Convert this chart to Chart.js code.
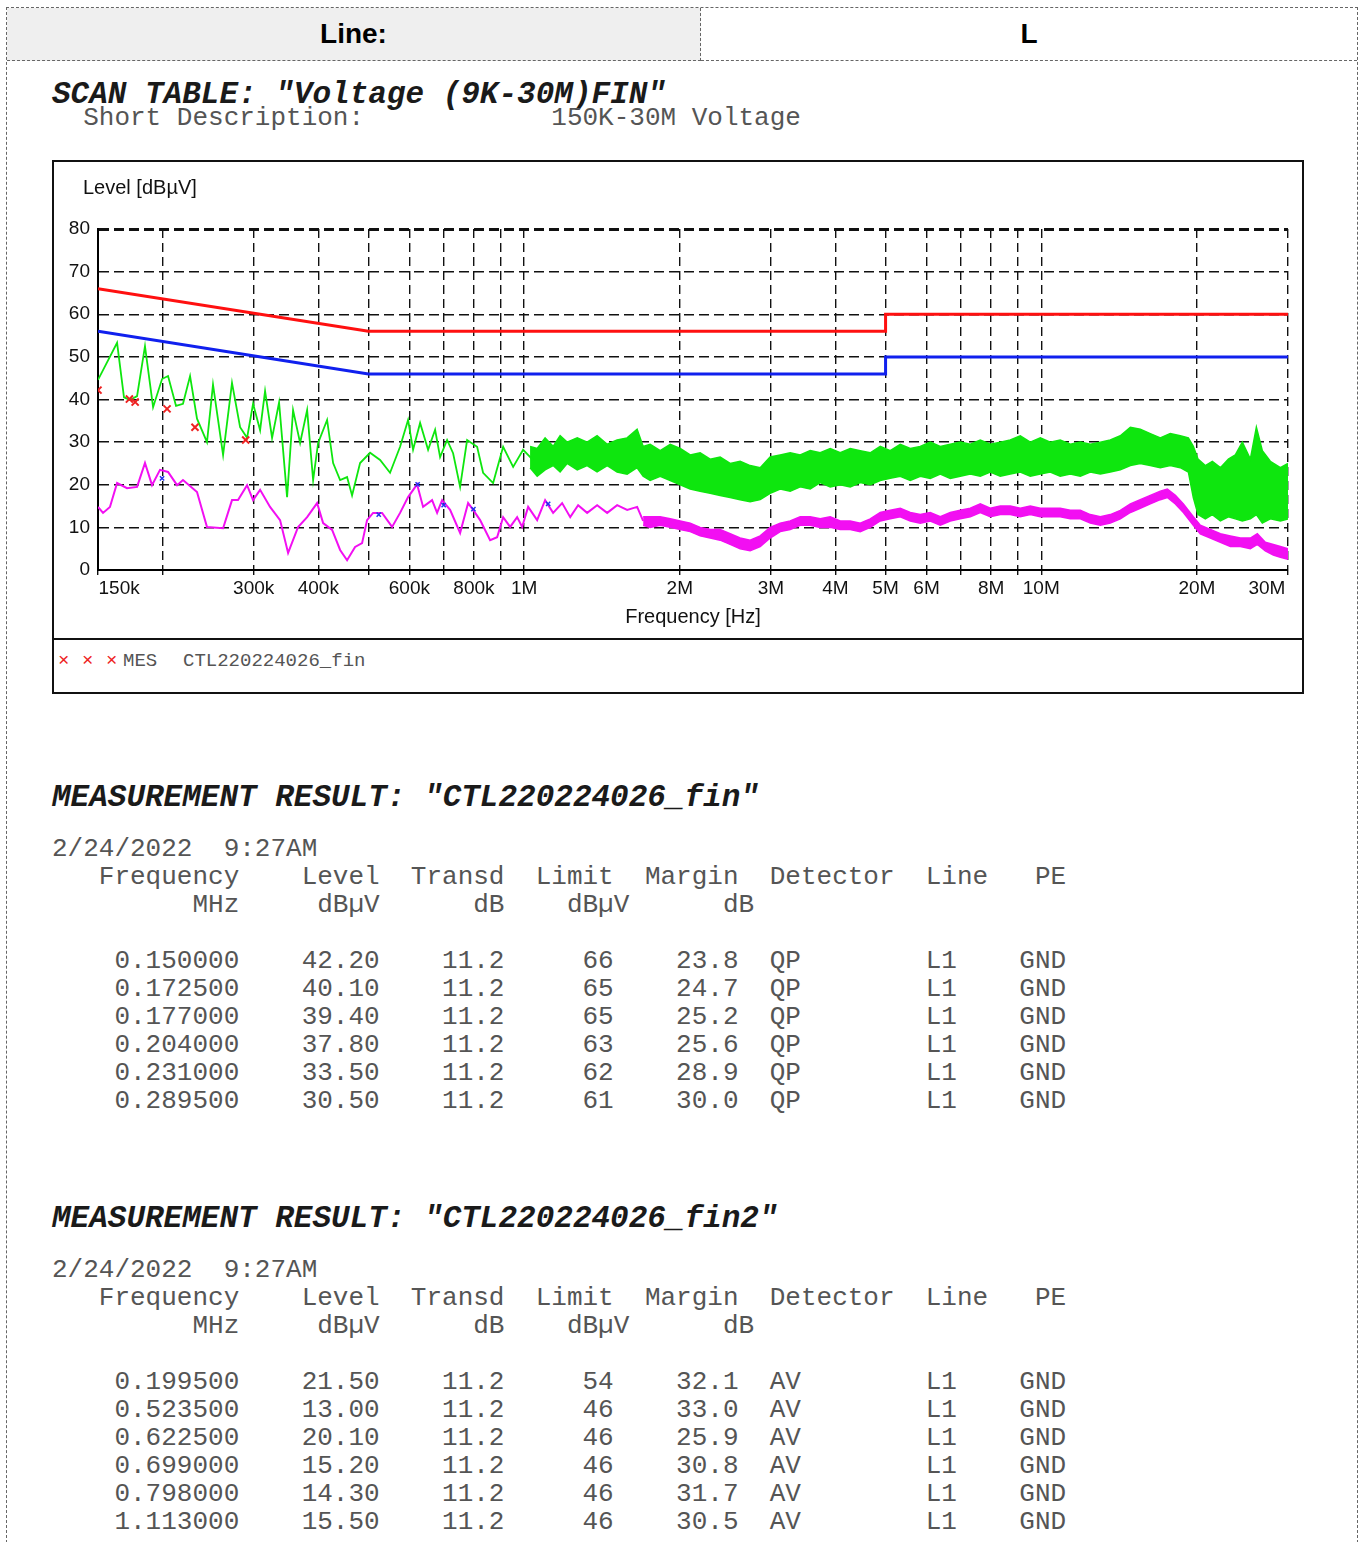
<!DOCTYPE html>
<html>
<head>
<meta charset="utf-8">
<title>SCAN TABLE - Voltage (9K-30M) FIN</title>
<script src="https://cdn.jsdelivr.net/npm/chart.js@4.4.0/dist/chart.umd.min.js"></script>
<style>
  body { margin: 0; width: 1362px; height: 1542px; background: #fff; position: relative; overflow: hidden; }
  .frame { position: absolute; left: 6px; top: 7px; width: 1350px; height: 1540px;
           border-left: 1px dashed #666; border-right: 1px dashed #666; border-top: 1px dashed #666; }
  .cell { position: absolute; top: 8px; height: 52px; border-bottom: 1px dashed #666;
          font: bold 28px "Liberation Sans", Arial, sans-serif; color: #000;
          display: flex; align-items: center; justify-content: center; }
  .cell.left { left: 7px; width: 693px; background: #efefef; border-right: 1px dashed #666; }
  .cell.right { left: 701px; width: 656px; }
  .mono { position: absolute; margin: 0; font-family: "Liberation Mono", "Courier New", monospace;
          color: #555; white-space: pre; }
  .title { font-size: 31px; font-weight: bold; font-style: italic; color: #1a1a1a; line-height: 36px; }
  .body { font-size: 26px; line-height: 28px; }
  .box { position: absolute; left: 52px; top: 160px; width: 1248px; height: 530px; border: 2px solid #111; }
  .box .sep { position: absolute; left: 0; top: 476px; width: 1248px; height: 0; border-top: 2px solid #111; }
  #chart { position: absolute; left: 0; top: 0; }
  .legend { position: absolute; top: 488px; font: 19px "Liberation Mono", "Courier New", monospace; color: #555; }
  .legend.x { color: #e22; }
</style>
</head>
<body>
<div class="frame"></div>
<div class="cell left">Line:</div>
<div class="cell right">L</div>

<pre class="mono title" style="left:52px; top:77px;">SCAN TABLE: "Voltage (9K-30M)FIN"</pre>
<pre class="mono body" style="left:52px; top:104px;">  Short Description:            150K-30M Voltage</pre>

<div class="box">
  <canvas id="chart" width="1248" height="476"></canvas>
  <div class="sep"></div>
  <span class="legend x" style="left:4px;">×</span>
  <span class="legend x" style="left:28px;">×</span>
  <span class="legend x" style="left:52px;">×</span>
  <span class="legend" style="left:69px;">MES</span>
  <span class="legend" style="left:129px;">CTL220224026_fin</span>
</div>

<pre class="mono title" style="left:52px; top:780px;">MEASUREMENT RESULT: "CTL220224026_fin"</pre>
<pre class="mono body" id="table-qp" style="left:52px; top:835px;"></pre>

<pre class="mono title" style="left:52px; top:1201px;">MEASUREMENT RESULT: "CTL220224026_fin2"</pre>
<pre class="mono body" id="table-av" style="left:52px; top:1256px;"></pre>

<script>
// x axis grid (MHz) and its labels
const xGridFreq = [0.15, 0.2, 0.3, 0.4, 0.5, 0.6, 0.7, 0.8, 0.9, 1, 2, 3, 4, 5, 6, 7, 8, 9, 10, 20, 30];
const xGridLabels = ['        150k', '', '300k', '400k', '', '600k', '', '800k', '', '1M', '2M', '3M', '4M',
  '5M', '6M', '', '8M', '', '10M', '20M', '30M        '];

// limit lines (dBuV)
const limitFreq = [0.15, 0.5, 5, 5, 30];
const qpLimitLine = [66, 56, 56, 60, 60];
const avLimitLine = [56, 46, 46, 50, 50];

// final QP measurement (CTL220224026_fin)
const qpFreq = [0.15, 0.1725, 0.177, 0.204, 0.231, 0.2895];
const qpLevel = [42.2, 40.1, 39.4, 37.8, 33.5, 30.5];
const qpLimit = [66, 65, 65, 63, 62, 61];
const qpMargin = [23.8, 24.7, 25.2, 25.6, 28.9, 30.0];

// final AV measurement (CTL220224026_fin2)
const avFreq = [0.1995, 0.5235, 0.6225, 0.699, 0.798, 1.113];
const avLevel = [21.5, 13.0, 20.1, 15.2, 14.3, 15.5];
const avLimit = [54, 46, 46, 46, 46, 46];
const avMargin = [32.1, 33.0, 25.9, 30.8, 31.7, 30.5];
const transd = 11.2;

// peak scan, single trace below 1 MHz
const peakFreq = [0.150, 0.1633, 0.1684, 0.1730, 0.1785, 0.1849, 0.1917, 0.1995, 0.2049, 0.2123,
  0.2190, 0.2260, 0.2331, 0.2437, 0.2503, 0.2618, 0.2724, 0.2824, 0.2913, 0.2992,
  0.3087, 0.3156, 0.3256, 0.3359, 0.3481, 0.3575, 0.3689, 0.3806, 0.3909, 0.3997,
  0.4160, 0.4273, 0.4408, 0.4547, 0.4649, 0.4818, 0.5037, 0.5267, 0.5506, 0.5757,
  0.5966, 0.6100, 0.6294, 0.6522, 0.6729, 0.6880, 0.7098, 0.7290, 0.7521, 0.7759,
  0.8113, 0.8332, 0.8712, 0.9109, 0.9524, 0.9957, 1.0411];
const peakLevel = [44.6, 53.3, 40.5, 39.9, 40.8, 52.5, 38.2, 44.8, 45.5, 38.5,
  39.0, 45.5, 35.5, 30.0, 43.5, 27.0, 43.9, 33.5, 31.0, 39.0,
  32.8, 42.0, 31.0, 39.3, 17.1, 37.5, 29.8, 37.5, 21.1, 29.8,
  35.2, 25.1, 21.1, 21.8, 17.5, 25.1, 27.5, 25.8, 22.8, 28.9,
  35.2, 28.2, 34.5, 28.2, 32.9, 26.5, 30.5, 27.4, 19.5, 30.5,
  28.9, 22.8, 20.4, 28.9, 24.2, 28.2, 25.8];

// peak scan, noisy band above 1 MHz (lower / upper edge)
const peakBandFreq = [1.027, 1.060, 1.098, 1.138, 1.174, 1.211, 1.267, 1.324, 1.384, 1.448,
  1.513, 1.582, 1.654, 1.699, 1.753, 1.833, 1.917, 2.004, 2.095, 2.190,
  2.290, 2.394, 2.503, 2.617, 2.736, 2.861, 2.991, 3.128, 3.270, 3.419,
  3.575, 3.738, 3.908, 4.086, 4.272, 4.467, 4.670, 4.883, 5.105, 5.338,
  5.581, 5.835, 6.101, 6.379, 6.669, 6.973, 7.291, 7.623, 7.970, 8.333,
  8.712, 9.109, 9.524, 9.958, 10.41, 10.88, 11.38, 11.90, 12.44, 13.01,
  13.60, 14.22, 14.87, 15.54, 16.25, 16.99, 17.76, 18.57, 19.25, 19.68,
  20.10, 20.76, 21.42, 22.20, 23.01, 23.73, 24.48, 25.37, 26.06, 26.76,
  27.73, 29.00, 30.00];
const peakBandLow = [24, 22, 23.5, 24.5, 23, 25, 23.5, 24.5, 23, 24.5,
  23, 22.5, 24, 22, 21, 22, 21, 20, 19, 18.5,
  18, 17.5, 17, 16.5, 16, 16.5, 18, 19, 18.5, 19.5,
  19, 20.5, 19.5, 20, 19.5, 20.5, 20, 21, 21.5, 22,
  21, 22, 21.5, 22.5, 21.5, 22, 22.5, 22, 23, 22,
  22.5, 23, 22, 22.5, 23, 22, 22.5, 22, 23, 22.5,
  23, 23.5, 24.5, 25, 24.5, 24, 24.5, 24, 23, 17,
  13, 12, 13, 11.5, 12.5, 12, 11.5, 12, 13, 11,
  12, 11.5, 12];
const peakBandHigh = [29, 28.5, 31, 29, 31.5, 30, 31, 30, 31.5, 29.5,
  30.5, 31, 33, 29, 29.5, 28, 29.5, 28.5, 27, 27.5,
  26, 26.5, 25, 25.5, 24.5, 24, 26.5, 27, 27.5, 27,
  28, 27.5, 28.5, 27.5, 28.5, 28, 27.5, 29, 28, 29.5,
  28.5, 29, 30, 29, 29.5, 30, 29.5, 30.5, 29.5, 30,
  30.5, 31.5, 30, 31, 30, 30.5, 29.5, 30, 29.5, 30,
  30.5, 31.5, 33.5, 33, 32, 31, 32, 31.5, 31, 29,
  26, 24.5, 25.5, 24, 26, 27, 30, 26, 33.5, 28,
  25.5, 24, 25];

// average scan, single trace below 1.7 MHz
const avgFreq = [0.150, 0.1534, 0.1582, 0.1633, 0.1707, 0.1785, 0.1849, 0.1908, 0.1977, 0.2049,
  0.2133, 0.2190, 0.2331, 0.2437, 0.2618, 0.2724, 0.2798, 0.2913, 0.2992, 0.3087,
  0.3227, 0.3374, 0.3497, 0.3656, 0.3806, 0.3979, 0.4087, 0.4254, 0.4408, 0.4547,
  0.4712, 0.4861, 0.4970, 0.5105, 0.5314, 0.5556, 0.5757, 0.5966, 0.6210, 0.6378,
  0.6639, 0.6789, 0.6942, 0.7193, 0.7521, 0.7794, 0.7970, 0.8222, 0.8596, 0.8869,
  0.9109, 0.9398, 0.9695, 0.9913, 1.0182, 1.0598, 1.0982, 1.1380, 1.1846, 1.228,
  1.2721, 1.3241, 1.3844, 1.4475, 1.5134, 1.5823, 1.6543, 1.699];
const avgLevel = [14.8, 13.4, 14.8, 20.4, 19.2, 19.5, 25.1, 19.9, 23.5, 23.0,
  19.9, 21.1, 18.3, 10.1, 9.8, 16.4, 16.4, 19.9, 16.4, 18.8,
  14.8, 11.7, 4.0, 10.1, 12.4, 15.7, 11.0, 9.4, 4.7, 2.3,
  5.4, 6.3, 11.7, 13.4, 13.4, 10.1, 13.4, 17.1, 20.1, 14.8,
  16.4, 13.4, 16.4, 14.1, 8.7, 15.7, 14.1, 11.7, 7.0, 7.7,
  12.4, 10.1, 12.4, 10.1, 14.8, 11.7, 16.4, 13.4, 15.7, 12.4,
  15.2, 13.4, 15.2, 13.4, 15.2, 14.1, 14.8, 11.5];

// average scan, thick band above 1.7 MHz (lower / upper edge)
const avgBandFreq = [1.699, 1.753, 1.833, 1.917, 2.004, 2.095, 2.190, 2.290, 2.394, 2.503,
  2.617, 2.736, 2.861, 2.991, 3.128, 3.270, 3.419, 3.575, 3.738, 3.908,
  4.086, 4.272, 4.467, 4.670, 4.883, 5.105, 5.338, 5.581, 5.835, 6.101,
  6.379, 6.669, 6.973, 7.291, 7.623, 7.970, 8.333, 8.712, 9.109, 9.524,
  9.958, 10.41, 10.88, 11.38, 11.90, 12.44, 13.01, 13.60, 14.22, 14.87,
  15.54, 16.25, 16.99, 17.53, 18.17, 18.83, 19.68, 20.30, 21.23, 22.20,
  23.21, 24.27, 25.37, 26.17, 27.12, 28.10, 29.00, 30.00];
const avgBandLow = [10.5, 10, 10.5, 10, 9.5, 9, 8, 7.5, 7, 6,
  5, 4.5, 5.5, 7.5, 9, 9.5, 10.5, 10.5, 10, 10,
  9.5, 9.5, 9, 10, 11.5, 12, 12.5, 11.5, 11, 11.5,
  10.5, 11.5, 12, 12.5, 13.5, 12.5, 13, 13, 12.5, 13,
  12.5, 12.5, 12.5, 12, 12, 11, 10.5, 11, 12, 13.5,
  14.5, 15.5, 16.5, 17, 15.5, 13.5, 10.5, 8.5, 7.5, 6.5,
  5.5, 5.5, 5, 6, 4.5, 3.5, 3, 2.5];
const avgBandHigh = [12.5, 12.5, 12.5, 12, 11.5, 11, 10, 9.5, 9.5, 8.5,
  7.5, 7, 8, 10, 11, 11.5, 12.5, 12.5, 12, 12.5,
  11.5, 11.5, 11, 12, 13.5, 14, 14.5, 13.5, 13, 13.5,
  12.5, 13.5, 14, 14.5, 15.5, 14.5, 15, 15, 14.5, 15,
  14.5, 14.5, 14.5, 14, 14, 13, 12.5, 13, 14, 15.5,
  16.5, 17.5, 18.5, 19, 17.5, 15.5, 12.5, 10.5, 9.5, 8.5,
  8, 7.5, 7.5, 8.5, 6.5, 6, 5.5, 5];

// 색상
const GREEN = '#0ee60e';
const MAGENTA = '#f20ff2';

const toPoints = (xs, ys) => xs.map((x, i) => ({ x: x, y: ys[i] }));

// measurement tables as text
function buildTable(freqs, levels, limits, margins, detector) {
  const lines = [
    '2/24/2022  9:27AM',
    '   Frequency    Level  Transd  Limit  Margin  Detector  Line   PE',
    '         MHz     dBµV      dB    dBµV      dB',
    '',
  ];
  freqs.forEach((f, i) => {
    lines.push(
      f.toFixed(6).padStart(12) +
      levels[i].toFixed(2).padStart(9) +
      transd.toFixed(1).padStart(8) +
      String(limits[i]).padStart(7) +
      margins[i].toFixed(1).padStart(8) +
      '  ' + detector + '        L1    GND'
    );
  });
  return lines.join('\n');
}
document.getElementById('table-qp').textContent = buildTable(qpFreq, qpLevel, qpLimit, qpMargin, 'QP');
document.getElementById('table-av').textContent = buildTable(avFreq, avLevel, avLimit, avMargin, 'AV');

// y axis caption drawn above the plot, not rotated
const levelCaption = {
  id: 'levelCaption',
  afterDraw(chart) {
    const { ctx, chartArea } = chart;
    ctx.save();
    ctx.font = '20px "Liberation Sans", Arial, sans-serif';
    ctx.fillStyle = '#111';
    ctx.textBaseline = 'middle';
    ctx.fillText('Level [dBµV]', chartArea.left - 15, chartArea.top - 41);
    ctx.restore();
  },
};

const tickFont = { family: '"Liberation Sans", Arial, sans-serif', size: 19 };

new Chart(document.getElementById('chart'), {
  type: 'line',
  data: {
    datasets: [
      {
        label: 'QP final',
        data: toPoints(qpFreq, qpLevel),
        showLine: false,
        pointStyle: 'crossRot',
        pointRadius: 5,
        pointBorderWidth: 2,
        pointBorderColor: '#ee2222',
        order: 0,
      },
      {
        label: 'AV final',
        data: toPoints(avFreq, avLevel),
        showLine: false,
        pointStyle: 'crossRot',
        pointRadius: 3,
        pointBorderWidth: 1.5,
        pointBorderColor: '#2233ee',
        order: 0,
      },
      {
        label: 'QP limit',
        data: toPoints(limitFreq, qpLimitLine),
        borderColor: '#ff1010',
        borderWidth: 3,
        pointRadius: 0,
        order: 1,
      },
      {
        label: 'AV limit',
        data: toPoints(limitFreq, avLimitLine),
        borderColor: '#1020ee',
        borderWidth: 3,
        pointRadius: 0,
        order: 1,
      },
      {
        label: 'AV scan',
        data: toPoints(avgFreq, avgLevel),
        borderColor: MAGENTA,
        borderWidth: 2,
        pointRadius: 0,
        order: 2,
      },
      {
        label: 'AV scan band high',
        data: toPoints(avgBandFreq, avgBandHigh),
        borderColor: MAGENTA,
        backgroundColor: MAGENTA,
        borderWidth: 1.5,
        pointRadius: 0,
        fill: '+1',
        order: 2,
      },
      {
        label: 'AV scan band low',
        data: toPoints(avgBandFreq, avgBandLow),
        borderColor: MAGENTA,
        borderWidth: 1.5,
        pointRadius: 0,
        order: 2,
      },
      {
        label: 'PK scan',
        data: toPoints(peakFreq, peakLevel),
        borderColor: GREEN,
        borderWidth: 1.8,
        pointRadius: 0,
        order: 3,
      },
      {
        label: 'PK scan band high',
        data: toPoints(peakBandFreq, peakBandHigh),
        borderColor: GREEN,
        backgroundColor: GREEN,
        borderWidth: 1.5,
        pointRadius: 0,
        fill: '+1',
        order: 3,
      },
      {
        label: 'PK scan band low',
        data: toPoints(peakBandFreq, peakBandLow),
        borderColor: GREEN,
        borderWidth: 1.5,
        pointRadius: 0,
        order: 3,
      },
    ],
  },
  options: {
    responsive: false,
    animation: false,
    devicePixelRatio: 1,
    elements: { line: { tension: 0 } },
    layout: { padding: { top: 67, right: 14, left: 0, bottom: 0 } },
    plugins: {
      legend: { display: false },
      tooltip: { enabled: false },
    },
    scales: {
      x: {
        type: 'logarithmic',
        min: 0.15,
        max: 30,
        bounds: 'data',
        afterBuildTicks: (scale) => {
          scale.ticks = xGridFreq.map((v) => ({ value: v }));
        },
        afterFit: (scale) => {
          scale.height = 68;
          scale.paddingLeft = 0;
          scale.paddingRight = 0;
        },
        ticks: {
          autoSkip: false,
          maxRotation: 0,
          padding: 2,
          color: '#111',
          font: tickFont,
          callback: (value, index) => xGridLabels[index],
        },
        grid: { color: '#111', lineWidth: 1.4, tickLength: 5 },
        border: { display: true, color: '#000', width: 2, dash: [9, 5] },
        title: {
          display: true,
          text: 'Frequency [Hz]',
          color: '#111',
          font: { family: '"Liberation Sans", Arial, sans-serif', size: 20 },
          padding: { top: 0, bottom: 9 },
        },
      },
      y: {
        type: 'linear',
        min: 0,
        max: 80,
        afterFit: (scale) => {
          scale.width = 44;
        },
        ticks: { stepSize: 10, padding: 8, color: '#111', font: tickFont },
        grid: {
          color: '#111',
          drawTicks: false,
          lineWidth: (ctx) => (ctx.tick && ctx.tick.value === 80 ? 3 : 1.4),
        },
        border: { display: true, color: '#000', width: 2, dash: [10, 5] },
      },
    },
  },
  plugins: [levelCaption],
});
</script>
</body>
</html>
